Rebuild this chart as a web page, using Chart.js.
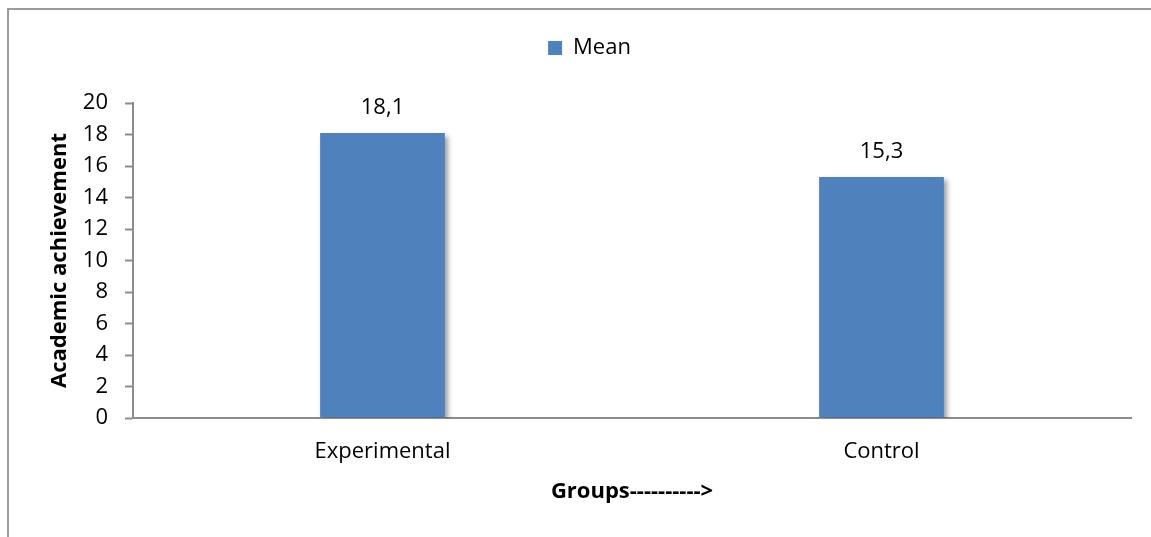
<!DOCTYPE html>
<html>
<head>
<meta charset="utf-8">
<style>
  html, body { margin: 0; padding: 0; background: #fff; }
  #wrap { position: relative; width: 1151px; height: 537px; }
  canvas { display: block; }
</style>
<script src="https://cdn.jsdelivr.net/npm/chart.js@4/dist/chart.umd.min.js"></script>
</head>
<body>
<div id="wrap"><canvas id="chart" width="1151" height="537"></canvas></div>
<script>
// Group means of academic achievement
const groups = ['Experimental', 'Control'];
const meanValues = [18.1, 15.3];
const yTicks = [0, 2, 4, 6, 8, 10, 12, 14, 16, 18, 20];

const FONT = '"Open Sans", "Noto Sans", sans-serif';
const BAR_BLUE = '#4f81bd';
const AXIS_GRAY = '#8c8c8c';

// Outer frame around the chart (left and top edges visible)
const framePlugin = {
  id: 'frame',
  beforeDraw(chart) {
    const ctx = chart.ctx;
    ctx.save();
    ctx.strokeStyle = '#9a9a9a';
    ctx.lineWidth = 2;
    ctx.beginPath();
    ctx.moveTo(8, chart.height + 5);
    ctx.lineTo(8, 9);
    ctx.lineTo(chart.width + 5, 9);
    ctx.stroke();
    ctx.restore();
  }
};

// Give the legend a fixed band height so the plot starts lower
const legendBandPlugin = {
  id: 'legendBand',
  beforeLayout(chart) {
    const lg = chart.legend;
    if (lg && !lg._bandPatched) {
      const fit = lg.fit.bind(lg);
      lg.fit = function () { fit(); this.height = 96; };
      lg._bandPatched = true;
    }
  }
};

// Soft drop shadow behind the bars
const shadowPlugin = {
  id: 'barShadow',
  beforeDatasetsDraw(chart) {
    const ctx = chart.ctx;
    ctx.save();
    ctx.shadowColor = 'rgba(0,0,0,0.38)';
    ctx.shadowBlur = 5;
    ctx.shadowOffsetX = 3;
    ctx.shadowOffsetY = 3;
  },
  afterDatasetsDraw(chart) {
    chart.ctx.restore();
  }
};

// Value labels above each bar, decimal comma
const valueLabelPlugin = {
  id: 'valueLabels',
  afterDatasetsDraw(chart) {
    const ctx = chart.ctx;
    ctx.save();
    ctx.font = '22px ' + FONT;
    ctx.fillStyle = '#000';
    ctx.textAlign = 'center';
    ctx.textBaseline = 'middle';
    chart.data.datasets.forEach((ds, di) => {
      chart.getDatasetMeta(di).data.forEach((bar, i) => {
        const txt = ds.data[i].toFixed(1).replace('.', ',');
        ctx.fillText(txt, bar.x, bar.y - 25);
      });
    });
    ctx.restore();
  }
};

new Chart(document.getElementById('chart'), {
  type: 'bar',
  data: {
    labels: groups,
    datasets: [{
      label: 'Mean',
      data: meanValues,
      backgroundColor: BAR_BLUE,
      borderWidth: 0,
      categoryPercentage: 1,
      barPercentage: 0.25
    }]
  },
  options: {
    responsive: false,
    animation: false,
    devicePixelRatio: 1,
    layout: { padding: { left: 48, right: 20, top: 7, bottom: 32 } },
    plugins: {
      legend: {
        position: 'top',
        labels: {
          font: { family: FONT, size: 22 },
          color: '#000',
          boxWidth: 14,
          boxHeight: 14,
          padding: 30,
          generateLabels() {
            return [{
              text: 'Mean',
              fillStyle: BAR_BLUE,
              strokeStyle: BAR_BLUE,
              lineWidth: 0,
              datasetIndex: 0
            }];
          }
        }
      },
      tooltip: { enabled: false }
    },
    scales: {
      x: {
        afterFit(scale) { scale.height = 537 - 32 - 418; },
        grid: { display: false, drawTicks: false },
        border: { color: AXIS_GRAY, width: 2 },
        ticks: { font: { family: FONT, size: 22 }, color: '#000', padding: 21 },
        title: {
          display: true,
          text: 'Groups---------->',
          font: { family: FONT, size: 22, weight: 'bold' },
          color: '#000',
          padding: { top: 0, bottom: 0 }
        }
      },
      y: {
        min: 0,
        max: 20,
        afterFit(scale) { scale.width = 133 - 48; },
        afterBuildTicks(scale) {
          scale.ticks = yTicks.map(v => ({ value: v }));
        },
        grid: { display: true, drawOnChartArea: false, drawTicks: true, tickLength: 8, tickColor: AXIS_GRAY, tickWidth: 2 },
        border: { color: AXIS_GRAY, width: 2 },
        ticks: { font: { family: FONT, size: 22 }, color: '#000', padding: 17 },
        title: {
          display: true,
          text: 'Academic achievement',
          font: { family: FONT, size: 22, weight: 'bold', lineHeight: 1 },
          color: '#000',
          padding: { top: 1, bottom: 0 }
        }
      }
    }
  },
  plugins: [framePlugin, legendBandPlugin, shadowPlugin, valueLabelPlugin]
});
</script>
</body>
</html>
